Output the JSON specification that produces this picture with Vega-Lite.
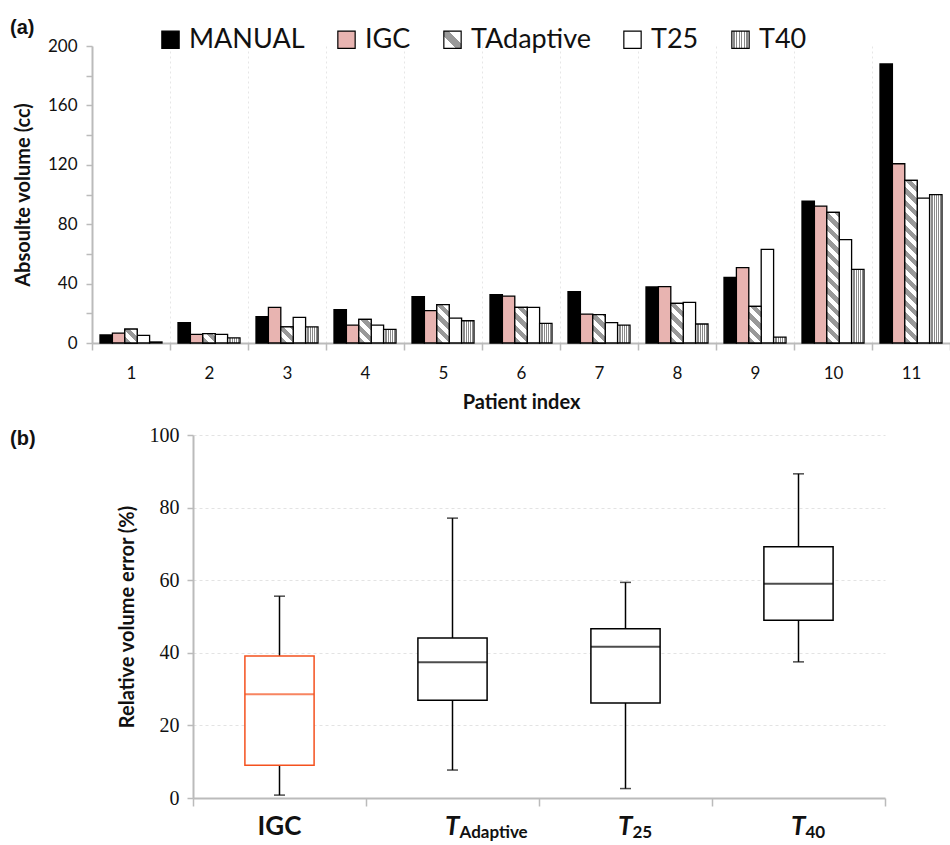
{
  "$schema": "https://vega.github.io/schema/vega-lite/v6.json",
  "background": "white",
  "padding": {"left": 10, "top": 18, "right": 0, "bottom": 0},
  "config": {
    "view": {"stroke": null},
    "font": "Lato",
    "axis": {"labelFont": "Lato", "titleFont": "Lato", "labelColor": "#111", "titleColor": "#111"}
  },
  "params": [
    {
      "name": "legendDiag",
      "value": {"gradient": "linear", "x1": 0, "y1": 1, "x2": 1, "y2": 0, "stops": [
        {"offset": 0, "color": "#ffffff"}, {"offset": 0.36, "color": "#ffffff"}, {"offset": 0.36, "color": "#999999"}, {"offset": 0.64, "color": "#999999"}, {"offset": 0.64, "color": "#ffffff"}, {"offset": 1, "color": "#ffffff"}
      ]}
    },
    {
      "name": "vertStripes",
      "value": {"gradient": "linear", "x1": 0, "y1": 0, "x2": 1, "y2": 0, "stops": [
        {"offset": 0, "color": "#ffffff"}, {"offset": 0.0769, "color": "#ffffff"}, {"offset": 0.0769, "color": "#8a8a8a"}, {"offset": 0.1538, "color": "#8a8a8a"},
        {"offset": 0.1538, "color": "#ffffff"}, {"offset": 0.2308, "color": "#ffffff"}, {"offset": 0.2308, "color": "#8a8a8a"}, {"offset": 0.3077, "color": "#8a8a8a"},
        {"offset": 0.3077, "color": "#ffffff"}, {"offset": 0.3846, "color": "#ffffff"}, {"offset": 0.3846, "color": "#8a8a8a"}, {"offset": 0.4615, "color": "#8a8a8a"},
        {"offset": 0.4615, "color": "#ffffff"}, {"offset": 0.5385, "color": "#ffffff"}, {"offset": 0.5385, "color": "#8a8a8a"}, {"offset": 0.6154, "color": "#8a8a8a"},
        {"offset": 0.6154, "color": "#ffffff"}, {"offset": 0.6923, "color": "#ffffff"}, {"offset": 0.6923, "color": "#8a8a8a"}, {"offset": 0.7692, "color": "#8a8a8a"},
        {"offset": 0.7692, "color": "#ffffff"}, {"offset": 0.8462, "color": "#ffffff"}, {"offset": 0.8462, "color": "#8a8a8a"}, {"offset": 0.9231, "color": "#8a8a8a"},
        {"offset": 0.9231, "color": "#ffffff"}, {"offset": 1, "color": "#ffffff"}
      ]}
    },
    {
      "name": "diagStops",
      "value": [
        {"offset": 0, "color": "#999999"}, {"offset": 0.03125, "color": "#999999"}, {"offset": 0.03125, "color": "#ffffff"}, {"offset": 0.0625, "color": "#ffffff"},
        {"offset": 0.0625, "color": "#999999"}, {"offset": 0.09375, "color": "#999999"}, {"offset": 0.09375, "color": "#ffffff"}, {"offset": 0.125, "color": "#ffffff"},
        {"offset": 0.125, "color": "#999999"}, {"offset": 0.15625, "color": "#999999"}, {"offset": 0.15625, "color": "#ffffff"}, {"offset": 0.1875, "color": "#ffffff"},
        {"offset": 0.1875, "color": "#999999"}, {"offset": 0.21875, "color": "#999999"}, {"offset": 0.21875, "color": "#ffffff"}, {"offset": 0.25, "color": "#ffffff"},
        {"offset": 0.25, "color": "#999999"}, {"offset": 0.28125, "color": "#999999"}, {"offset": 0.28125, "color": "#ffffff"}, {"offset": 0.3125, "color": "#ffffff"},
        {"offset": 0.3125, "color": "#999999"}, {"offset": 0.34375, "color": "#999999"}, {"offset": 0.34375, "color": "#ffffff"}, {"offset": 0.375, "color": "#ffffff"},
        {"offset": 0.375, "color": "#999999"}, {"offset": 0.40625, "color": "#999999"}, {"offset": 0.40625, "color": "#ffffff"}, {"offset": 0.4375, "color": "#ffffff"},
        {"offset": 0.4375, "color": "#999999"}, {"offset": 0.46875, "color": "#999999"}, {"offset": 0.46875, "color": "#ffffff"}, {"offset": 0.5, "color": "#ffffff"},
        {"offset": 0.5, "color": "#999999"}, {"offset": 0.53125, "color": "#999999"}, {"offset": 0.53125, "color": "#ffffff"}, {"offset": 0.5625, "color": "#ffffff"},
        {"offset": 0.5625, "color": "#999999"}, {"offset": 0.59375, "color": "#999999"}, {"offset": 0.59375, "color": "#ffffff"}, {"offset": 0.625, "color": "#ffffff"},
        {"offset": 0.625, "color": "#999999"}, {"offset": 0.65625, "color": "#999999"}, {"offset": 0.65625, "color": "#ffffff"}, {"offset": 0.6875, "color": "#ffffff"},
        {"offset": 0.6875, "color": "#999999"}, {"offset": 0.71875, "color": "#999999"}, {"offset": 0.71875, "color": "#ffffff"}, {"offset": 0.75, "color": "#ffffff"},
        {"offset": 0.75, "color": "#999999"}, {"offset": 0.78125, "color": "#999999"}, {"offset": 0.78125, "color": "#ffffff"}, {"offset": 0.8125, "color": "#ffffff"},
        {"offset": 0.8125, "color": "#999999"}, {"offset": 0.84375, "color": "#999999"}, {"offset": 0.84375, "color": "#ffffff"}, {"offset": 0.875, "color": "#ffffff"},
        {"offset": 0.875, "color": "#999999"}, {"offset": 0.90625, "color": "#999999"}, {"offset": 0.90625, "color": "#ffffff"}, {"offset": 0.9375, "color": "#ffffff"},
        {"offset": 0.9375, "color": "#999999"}, {"offset": 0.96875, "color": "#999999"}, {"offset": 0.96875, "color": "#ffffff"}, {"offset": 1, "color": "#ffffff"}
      ]
    }
  ],
  "align": "none",
  "bounds": "full",
  "spacing": 13,
  "vconcat": [
    {
      "width": 858,
      "height": 297,
      "title": {"text": "(a)", "anchor": "start", "frame": "group", "dx": -82, "offset": -1, "font": "Liberation Sans", "fontSize": 20, "fontWeight": "bold", "color": "#111"},
      "data": {
        "values": [
          {"patient": 1, "method": "MANUAL", "volume": 5.4}, {"patient": 1, "method": "IGC", "volume": 6.7}, {"patient": 1, "method": "TAdaptive", "volume": 9.4}, {"patient": 1, "method": "T25", "volume": 5.1}, {"patient": 1, "method": "T40", "volume": 0.7},
          {"patient": 2, "method": "MANUAL", "volume": 13.7}, {"patient": 2, "method": "IGC", "volume": 5.8}, {"patient": 2, "method": "TAdaptive", "volume": 6.3}, {"patient": 2, "method": "T25", "volume": 5.8}, {"patient": 2, "method": "T40", "volume": 3.4},
          {"patient": 3, "method": "MANUAL", "volume": 17.7}, {"patient": 3, "method": "IGC", "volume": 24.0}, {"patient": 3, "method": "TAdaptive", "volume": 10.8}, {"patient": 3, "method": "T25", "volume": 17.3}, {"patient": 3, "method": "T40", "volume": 10.8},
          {"patient": 4, "method": "MANUAL", "volume": 22.4}, {"patient": 4, "method": "IGC", "volume": 12.1}, {"patient": 4, "method": "TAdaptive", "volume": 15.9}, {"patient": 4, "method": "T25", "volume": 12.1}, {"patient": 4, "method": "T40", "volume": 9.2},
          {"patient": 5, "method": "MANUAL", "volume": 31.2}, {"patient": 5, "method": "IGC", "volume": 21.8}, {"patient": 5, "method": "TAdaptive", "volume": 25.8}, {"patient": 5, "method": "T25", "volume": 16.8}, {"patient": 5, "method": "T40", "volume": 15.0},
          {"patient": 6, "method": "MANUAL", "volume": 32.5}, {"patient": 6, "method": "IGC", "volume": 31.6}, {"patient": 6, "method": "TAdaptive", "volume": 24.0}, {"patient": 6, "method": "T25", "volume": 24.0}, {"patient": 6, "method": "T40", "volume": 13.2},
          {"patient": 7, "method": "MANUAL", "volume": 34.5}, {"patient": 7, "method": "IGC", "volume": 19.5}, {"patient": 7, "method": "TAdaptive", "volume": 19.1}, {"patient": 7, "method": "T25", "volume": 13.7}, {"patient": 7, "method": "T40", "volume": 12.1},
          {"patient": 8, "method": "MANUAL", "volume": 37.7}, {"patient": 8, "method": "IGC", "volume": 38.0}, {"patient": 8, "method": "TAdaptive", "volume": 26.7}, {"patient": 8, "method": "T25", "volume": 27.4}, {"patient": 8, "method": "T40", "volume": 12.8},
          {"patient": 9, "method": "MANUAL", "volume": 44.2}, {"patient": 9, "method": "IGC", "volume": 50.7}, {"patient": 9, "method": "TAdaptive", "volume": 24.7}, {"patient": 9, "method": "T25", "volume": 63.0}, {"patient": 9, "method": "T40", "volume": 4.0},
          {"patient": 10, "method": "MANUAL", "volume": 95.6}, {"patient": 10, "method": "IGC", "volume": 92.2}, {"patient": 10, "method": "TAdaptive", "volume": 88.0}, {"patient": 10, "method": "T25", "volume": 69.6}, {"patient": 10, "method": "T40", "volume": 49.6},
          {"patient": 11, "method": "MANUAL", "volume": 187.9}, {"patient": 11, "method": "IGC", "volume": 120.7}, {"patient": 11, "method": "TAdaptive", "volume": 109.5}, {"patient": 11, "method": "T25", "volume": 97.6}, {"patient": 11, "method": "T40", "volume": 99.9}
        ]
      },
      "encoding": {
        "x": {
          "field": "patient", "type": "ordinal", "title": "Patient index",
          "scale": {"paddingInner": 0, "paddingOuter": 0},
          "axis": {
            "labelAngle": 0, "labelFontSize": 17, "labelPadding": 15,
            "tickBand": "extent", "tickSize": 7, "tickColor": "#bbbbbb", "tickWidth": 1.5,
            "domainColor": "#bbbbbb", "domainWidth": 2,
            "grid": true, "gridColor": "#e6e6e6", "gridDash": [2, 3],
            "titleFontSize": 20, "titleFontWeight": "bold", "titlePadding": 11
          }
        },
        "xOffset": {
          "field": "method", "type": "nominal",
          "scale": {"domain": ["MANUAL", "IGC", "TAdaptive", "T25", "T40"], "paddingInner": 0, "paddingOuter": 0.645}
        },
        "y": {
          "field": "volume", "type": "quantitative", "title": "Absoulte volume (cc)",
          "scale": {"domain": [0, 200], "nice": false},
          "axis": {
            "values": [0, 20, 40, 60, 80, 100, 120, 140, 160, 180, 200],
            "labelExpr": "datum.value % 40 == 0 ? datum.label : ''",
            "labelFontSize": 17, "labelPadding": 9,
            "tickSize": 6, "tickColor": "#bbbbbb", "tickWidth": 1.5,
            "domainColor": "#bbbbbb", "domainWidth": 2, "grid": false,
            "titleFontSize": 20, "titleFontWeight": "bold", "titlePadding": 14
          }
        }
      },
      "layer": [
        {
          "mark": {"type": "bar", "stroke": "black", "strokeWidth": 1.3},
          "encoding": {
            "fill": {
              "field": "method", "type": "nominal",
              "scale": {
                "domain": ["MANUAL", "IGC", "TAdaptive", "T25", "T40"],
                "range": ["#000000", "#e8b4b1", {"expr": "legendDiag"}, "#ffffff", {"expr": "vertStripes"}]
              },
              "legend": {
                "title": null, "orient": "none", "legendX": 65, "legendY": -20, "direction": "horizontal",
                "labelFont": "Lato", "labelFontSize": 27, "labelColor": "#111", "labelOffset": 5,
                "symbolType": "square", "symbolSize": 300, "symbolStrokeColor": "#000000", "symbolStrokeWidth": 1.2,
                "columnPadding": 28
              }
            }
          }
        },
        {
          "transform": [{"filter": "datum.method == 'TAdaptive'"}],
          "mark": {
            "type": "bar", "stroke": "black", "strokeWidth": 1.3,
            "fill": {"expr": "{gradient: 'linear', x1: 0, y1: 1, x2: 2480 / (153.76 + pow(datum.volume * 1.485, 2)), y2: 1 - 297 * datum.volume / (153.76 + pow(datum.volume * 1.485, 2)), stops: diagStops}"}
          }
        }
      ]
    },
    {
      "width": 793,
      "height": 363,
      "title": {"text": "(b)", "anchor": "start", "frame": "group", "dx": -82, "offset": -24, "font": "Liberation Sans", "fontSize": 20, "fontWeight": "bold", "color": "#111"},
      "encoding": {
        "x": {
          "field": "method", "type": "nominal", "title": null,
          "scale": {"domain": ["IGC", "TAdaptive", "T25", "T40"], "paddingInner": 0, "paddingOuter": 0, "range": [101, 793]},
          "axis": {"labels": false, "tickBand": "extent", "tickSize": 8, "tickColor": "#bbbbbb", "tickWidth": 1.5, "domainColor": "#bbbbbb", "domainWidth": 2, "grid": false}
        }
      },
      "layer": [
        {
          "data": {"name": "boxes", "values": [
            {"method": "IGC", "lower": 0.8, "q1": 9.0, "median": 28.6, "q3": 39.1, "upper": 55.6},
            {"method": "TAdaptive", "lower": 7.7, "q1": 26.9, "median": 37.4, "q3": 44.1, "upper": 77.1},
            {"method": "T25", "lower": 2.6, "q1": 26.2, "median": 41.7, "q3": 46.6, "upper": 59.4},
            {"method": "T40", "lower": 37.5, "q1": 49.0, "median": 59.0, "q3": 69.2, "upper": 89.3}
          ]},
          "layer": [
            {
              "mark": {"type": "rule", "color": "black", "strokeWidth": 1.5},
              "encoding": {
                "y": {
                  "field": "lower", "type": "quantitative", "title": "Relative volume error (%)",
                  "scale": {"domain": [0, 100], "nice": false},
                  "axis": {
                    "offset": -101,
                    "values": [0, 10, 20, 30, 40, 50, 60, 70, 80, 90, 100],
                    "labelExpr": "datum.value % 20 == 0 ? datum.label : ''",
                    "labelFont": "Liberation Serif", "labelFontSize": 20, "labelPadding": 8,
                    "tickSize": 6, "tickColor": "#bbbbbb", "tickWidth": 1.5,
                    "domainColor": "#bbbbbb", "domainWidth": 2,
                    "grid": true, "gridColor": "#e3e3e3", "gridDash": [3, 3],
                    "gridOpacity": {"condition": {"test": "datum.value % 20 == 0 && datum.value > 0", "value": 1}, "value": 0},
                    "titleFontSize": 20, "titleFontWeight": "bold", "titlePadding": 12
                  }
                },
                "y2": {"field": "upper"}
              }
            },
            {
              "mark": {"type": "bar", "fill": "white", "strokeWidth": 1.5, "width": {"band": 0.4}},
              "encoding": {
                "y": {"field": "q1", "type": "quantitative", "title": "Relative volume error (%)"},
                "y2": {"field": "q3"},
                "stroke": {"condition": {"test": "datum.method == 'IGC'", "value": "#f4511e"}, "value": "black"}
              }
            },
            {
              "mark": {"type": "tick", "thickness": 2, "size": 69},
              "encoding": {
                "y": {"field": "median", "type": "quantitative", "title": "Relative volume error (%)"},
                "color": {"condition": {"test": "datum.method == 'IGC'", "value": "#f4511e"}, "value": "black"}
              }
            },
            {
              "mark": {"type": "tick", "thickness": 1.5, "size": 11, "color": "black"},
              "encoding": {"y": {"field": "lower", "type": "quantitative", "title": "Relative volume error (%)"}}
            },
            {
              "mark": {"type": "tick", "thickness": 1.5, "size": 11, "color": "black"},
              "encoding": {"y": {"field": "upper", "type": "quantitative", "title": "Relative volume error (%)"}}
            }
          ]
        },
        {
          "data": {"name": "labels", "values": [
            {"method": "IGC", "main": "IGC", "sub": ""},
            {"method": "TAdaptive", "main": "T", "sub": "Adaptive"},
            {"method": "T25", "main": "T", "sub": "25"},
            {"method": "T40", "main": "T", "sub": "40"}
          ]},
          "layer": [
            {
              "transform": [{"filter": "datum.method == 'IGC'"}],
              "mark": {"type": "text", "font": "Lato", "fontSize": 26, "fontWeight": "bold", "align": "center", "baseline": "alphabetic", "dy": 37, "color": "#111"},
              "encoding": {"text": {"field": "main"}, "y": {"datum": 0}}
            },
            {
              "transform": [{"filter": "datum.method != 'IGC'"}],
              "mark": {"type": "text", "font": "Lato", "fontSize": 26, "fontWeight": "bold", "fontStyle": "italic", "align": "right", "baseline": "alphabetic", "dx": 7, "dy": 37, "color": "#111"},
              "encoding": {"text": {"field": "main"}, "y": {"datum": 0}}
            },
            {
              "transform": [{"filter": "datum.method != 'IGC'"}],
              "mark": {"type": "text", "font": "Lato", "fontSize": 17, "fontWeight": "bold", "align": "left", "baseline": "alphabetic", "dx": 7, "dy": 40, "color": "#111"},
              "encoding": {"text": {"field": "sub"}, "y": {"datum": 0}}
            }
          ]
        }
      ]
    }
  ]
}
